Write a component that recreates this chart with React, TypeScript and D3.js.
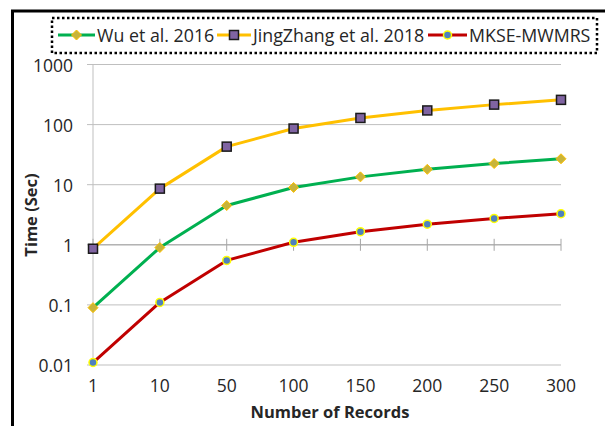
import React from "react";
import * as d3 from "d3";

const categories = ["1", "10", "50", "100", "150", "200", "250", "300"];
const wuValues = [0.09, 0.9, 4.5, 9, 13.5, 18, 22.5, 27];
const jingValues = [0.86, 8.6, 43, 86, 129, 172, 215, 258];
const mkseValues = [0.011, 0.11, 0.55, 1.1, 1.65, 2.2, 2.75, 3.3];
const yTicks = [0.01, 0.1, 1, 10, 100, 1000];
const yTickLabels = ["0.01", "0.1", "1", "10", "100", "1000"];
const seriesNames = ["Wu et al. 2016", "JingZhang et al. 2018", "MKSE-MWMRS"];

const W = 605;
const H = 426;
const FONT = "'Open Sans', sans-serif";

export default function App() {
  const x = d3.scalePoint<string>().domain(categories).range([93, 561]).padding(0);
  const y = d3.scaleLog().domain([0.01, 1000]).range([365, 64.5]);
  const line = d3
    .line<number>()
    .x((_, i) => x(categories[i]) as number)
    .y((d) => y(d));

  const series = [
    { name: seriesNames[0], values: wuValues, color: "#00b050", marker: "diamond" },
    { name: seriesNames[1], values: jingValues, color: "#ffc000", marker: "square" },
    { name: seriesNames[2], values: mkseValues, color: "#c00000", marker: "circle" },
  ];

  const marker = (kind: string, cx: number, cy: number, key: string) => {
    if (kind === "diamond") {
      const s = 5;
      return (
        <path
          key={key}
          d={`M${cx},${cy - s}L${cx + s},${cy}L${cx},${cy + s}L${cx - s},${cy}Z`}
          fill="#c8b43a"
          stroke="#ffc000"
          strokeWidth={1}
        />
      );
    }
    if (kind === "square") {
      return (
        <rect
          key={key}
          x={cx - 4.5}
          y={cy - 4.5}
          width={9}
          height={9}
          fill="#8064a2"
          stroke="#1a1a1a"
          strokeWidth={1.5}
        />
      );
    }
    return <circle key={key} cx={cx} cy={cy} r={4} fill="#4f81bd" stroke="#ffff00" strokeWidth={1.5} />;
  };

  const legendItems = [
    { lx1: 58, lx2: 95, tx: 97 },
    { lx1: 217, lx2: 251, tx: 253 },
    { lx1: 428, lx2: 467, tx: 469 },
  ];

  const axisY = y(1);

  return (
    <svg
      width={W}
      height={H}
      style={{ position: "absolute", left: 0, top: 0, background: "#fff" }}
      fontFamily={FONT}
    >
      <rect x={0} y={0} width={W} height={H} fill="#fff" />
      {/* outer frame */}
      <path d={`M12.5,${H} V11 H${W}`} fill="none" stroke="#000" strokeWidth={3} />

      {/* gridlines */}
      {yTicks.map((t, i) => (
        <line key={"g" + i} x1={87} x2={561} y1={y(t)} y2={y(t)} stroke="#bfbfbf" strokeWidth={1} />
      ))}
      {/* vertical axis */}
      <line x1={93} x2={93} y1={y(1000)} y2={y(0.01)} stroke="#bfbfbf" strokeWidth={1} />
      {/* horizontal axis crossing at 1 */}
      <line x1={93} x2={561} y1={axisY} y2={axisY} stroke="#a6a6a6" strokeWidth={1} />
      {categories.map((c, i) => (
        <line
          key={"xt" + i}
          x1={x(c)}
          x2={x(c)}
          y1={axisY - 6}
          y2={axisY + 6}
          stroke="#a6a6a6"
          strokeWidth={1}
        />
      ))}

      {/* y tick labels */}
      {yTicks.map((t, i) => (
        <text
          key={"yl" + i}
          x={73}
          y={y(t)}
          textAnchor="end"
          dominantBaseline="central"
          fontSize={17.5}
          fill="#262626"
        >
          {yTickLabels[i]}
        </text>
      ))}
      {/* x tick labels */}
      {categories.map((c, i) => (
        <text
          key={"xl" + i}
          x={x(c)}
          y={385}
          textAnchor="middle"
          dominantBaseline="central"
          fontSize={17.5}
          fill="#262626"
        >
          {c}
        </text>
      ))}

      {/* lines */}
      {series.map((s) => (
        <path
          key={"l" + s.name}
          d={line(s.values) || ""}
          fill="none"
          stroke={s.color}
          strokeWidth={3}
          strokeLinejoin="round"
        />
      ))}
      {series.map((s) =>
        s.values.map((v, i) => marker(s.marker, x(categories[i]) as number, y(v), s.name + i))
      )}

      {/* axis titles */}
      <text
        transform="translate(30,215) rotate(-90)"
        textAnchor="middle"
        dominantBaseline="central"
        fontSize={16.5}
        fontWeight="bold"
        fill="#262626"
      >
        Time (Sec)
      </text>
      <text x={330} y={411} textAnchor="middle" dominantBaseline="central" fontSize={16.5} fontWeight="bold" fill="#262626">
        Number of Records
      </text>

      {/* legend */}
      <rect
        x={52}
        y={18}
        width={545}
        height={35}
        fill="none"
        stroke="#000"
        strokeWidth={2.5}
        strokeDasharray="2.5,2.5"
      />
      {series.map((s, i) => {
        const it = legendItems[i];
        const cy = 35;
        return (
          <g key={"lg" + i}>
            <line x1={it.lx1} x2={it.lx2} y1={cy} y2={cy} stroke={s.color} strokeWidth={3} />
            {marker(s.marker, (it.lx1 + it.lx2) / 2, cy, "lm" + i)}
            <text x={it.tx} y={cy} dominantBaseline="central" fontSize={17.8} fill="#262626">
              {s.name}
            </text>
          </g>
        );
      })}
    </svg>
  );
}
